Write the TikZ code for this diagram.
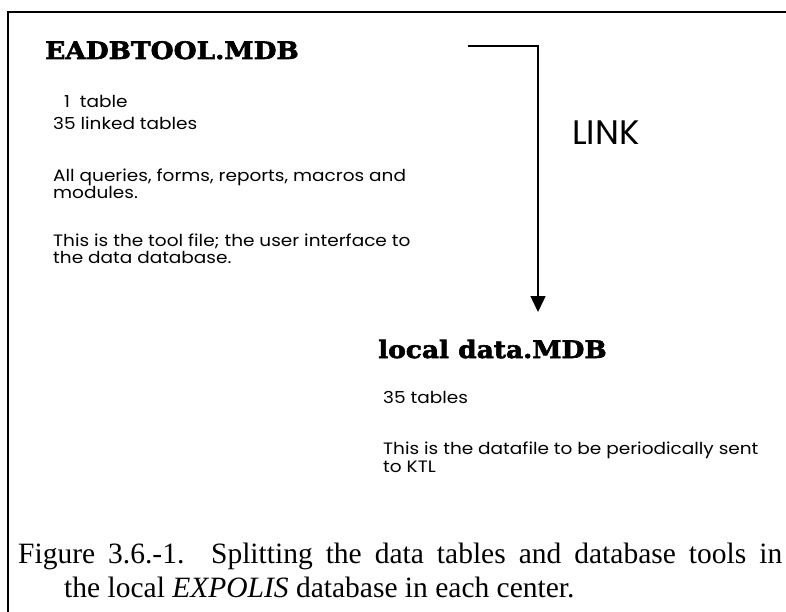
\documentclass[tikz,border=0pt]{standalone}
\usepackage{fontspec}
\setmainfont{Liberation Serif}
\setsansfont{Poppins}[FakeStretch=1.12]
\newfontfamily\linkfont{Poppins}
\newfontfamily\headfont{DejaVu Serif}[FakeBold=2.5, FakeStretch=1.1]
\usetikzlibrary{arrows.meta, positioning}

\begin{document}
\begin{tikzpicture}[x=1pt, y=-1pt,
		txt/.style={anchor=base west, inner sep=0pt, align=left, font=\sffamily\fontsize{16.5}{17}\selectfont},
		head/.style={anchor=base west, inner sep=0pt, font=\headfont\bfseries\fontsize{24}{26}\selectfont},
		capt/.style={anchor=base west, inner sep=0pt, font=\rmfamily\fontsize{29.5}{34}\selectfont}
	]
					\useasboundingbox (0,0) rectangle (786,612);
					\draw[line width=2pt] (8,612) -- (8,12) -- (786,12);

					\node[head] (tool) at (45,59) {EADBTOOL.MDB};
					\node[txt] (one) at (64,108) {1\ \ table};
					\node[txt] (linked) at (53,130) {35 linked tables};
					\node[txt] (queries) at (53,199) {All queries, forms, reports, macros and\\modules.};
					\node[txt] (toolfile) at (53,263) {This is the tool file; the user interface to\\the data database.};

					\node[anchor=base west, inner sep=0pt, font=\linkfont\fontsize{34}{40}\selectfont] (link) at (572,145) {LINK};

					\node[head] (data) at (378,358) {local data.MDB};
					\node[txt] (tables) at (383,403) {35 tables};
					\node[txt, font=\sffamily\fontsize{16.5}{18}\selectfont] (datafile) at (383,472) {This is the datafile to be periodically sent\\to KTL};

					\node[capt] (cap1) at (18,563) {\makebox[764pt][s]{Figure 3.6.-1. Splitting the data tables and database tools in}};
					\node[capt] (cap2) at (64,597) {the local \textit{EXPOLIS} database in each center.};

					\coordinate (from) at (468,46);
					\coordinate (to) at (538,312);
					\draw[line width=1.5pt, -{Triangle[width=15pt, length=16pt]}] (from) -| (to);
				\end{tikzpicture}
\end{document}
